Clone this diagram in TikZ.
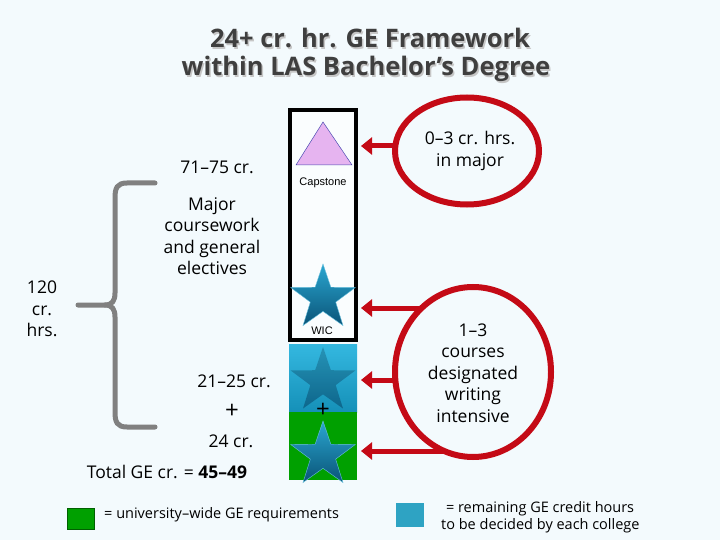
\documentclass[tikz,border=0pt]{standalone}
\usepackage{fontspec}
\setmainfont{Open Sans}
\newfontfamily\arialfont{Liberation Sans}
\usetikzlibrary{shapes.geometric,arrows.meta}
\definecolor{bg}{HTML}{F3FAFD}
\definecolor{redc}{HTML}{C40A16}
\definecolor{braceg}{HTML}{808080}
\definecolor{titleg}{HTML}{3F3F3F}
\definecolor{starTop}{HTML}{2AA6D0}
\definecolor{starBot}{HTML}{0A5478}
\definecolor{boxTop}{HTML}{34B8E0}
\definecolor{boxBot}{HTML}{1590B8}
\definecolor{greenc}{HTML}{00A000}
\definecolor{legblue}{HTML}{2EA3C3}
\definecolor{pinkc}{HTML}{E6B4F0}
\tikzset{
  body/.style={font=\fontsize{17.5}{21.5}\selectfont, align=center, inner sep=0pt},
  plussign/.style={font=\fontsize{24}{24}\selectfont, inner sep=0pt},
  small/.style={font=\arialfont\fontsize{11}{13}\selectfont, inner sep=0pt},
  legend/.style={font=\fontsize{14.5}{17}\selectfont, align=left, inner sep=0pt, anchor=west},
  ring/.style={ellipse, draw=redc, line width=6pt, fill=bg, inner sep=0pt},
  redarrow/.style={draw=redc, line width=5pt, -{Triangle[length=11pt,width=17pt]}},
  bracepath/.style={draw=braceg, line width=5pt, line cap=round},
  starshape/.style={star, star points=5, star point ratio=2.55, minimum size=68pt, inner sep=0pt, draw=starTop!70!white, line width=0.4pt, top color=starTop, bottom color=starBot},
  titletext/.style={font=\bfseries\fontsize{25.5}{30}\selectfont, inner sep=0pt},
}
\begin{document}
\begin{tikzpicture}[x=1pt,y=-1pt]
\useasboundingbox (0,0) rectangle (720,540);
\fill[bg] (0,0) rectangle (720,540);

% title with shadow
\node[titletext, text=gray!45] at (371.5,39.5) {24+ cr. hr. GE Framework};
\node[titletext, text=titleg] (t1) at (370,38) {24+ cr. hr. GE Framework};
\node[titletext, text=gray!45] at (367.5,70.5) {within LAS Bachelor’s Degree};
\node[titletext, text=titleg] (t2) at (366,69) {within LAS Bachelor’s Degree};

% column boxes
\node[rectangle, minimum width=68pt, minimum height=68pt, inner sep=0pt, top color=boxTop, bottom color=boxBot] (bluebox) at (323,378) {};
\node[rectangle, minimum width=68pt, minimum height=68pt, inner sep=0pt, fill=greenc] (greenbox) at (323,446) {};
\node[rectangle, draw=black, line width=4pt, fill=white!60!bg, minimum width=66pt, minimum height=230pt, inner sep=0pt] (upper) at (323,225) {};

% triangle
\coordinate (triA) at (323,122);
\coordinate (triB) at (352,165);
\coordinate (triC) at (296,165);
\filldraw[fill=pinkc, draw=blue!40!gray, line width=0.5pt] (triA) -- (triB) -- (triC) -- cycle;
\node[small] (cap) at (323,183) {Capstone};

% stars
\node[starshape] (s1) at (323,298) {};
\node[small] (wic) at (322,331) {WIC};
\node[starshape, top color=starTop!80!black, bottom color=starBot, draw=none, opacity=0.7] (s2) at (323,381) {};
\node[plussign] (plus2) at (323,410) {+};
\node[starshape] (s3) at (323,455) {};

% brace
\draw[bracepath] (155,183) -- (127,183) .. controls (117,183) and (115,188) .. (115,198) -- (115,293) .. controls (115,301) and (112,305) .. (105,305) -- (78,305);
\draw[bracepath] (105,305) .. controls (112,305) and (115,309) .. (115,317) -- (115,412) .. controls (115,422) and (117,427) .. (127,427) -- (155,427);

% left texts
\node[body] (t7175) at (217,167) {71–75 cr.};
\node[body] (major) at (212,236) {Major\\coursework\\and general\\electives};
\node[body] (t120) at (42,309) {120\\cr.\\hrs.};
\node[body] (t2125) at (234,381) {21–25 cr.};
\node[plussign] (plus1) at (232,411) {+};
\node[body] (t24) at (231,441) {24 cr.};
\node[body] (total) at (167,472) {Total GE cr. = \textbf{45–49}};

% arrows (drawn before rings so rings cover their starts)
\coordinate (a1) at (361,146);
\coordinate (a2) at (361,308);
\coordinate (a3) at (361,380);
\coordinate (a4) at (361,451);
\coordinate (e1c) at (467,146);
\coordinate (e2c) at (473,372);
\draw[redarrow] (e1c |- a1) -- (a1);
\draw[redarrow] (e2c |- a2) -- (a2);
\draw[redarrow] (e2c |- a3) -- (a3);
\draw[redarrow] (e2c |- a4) -- (a4);

% rings
\node[ring, minimum width=144pt, minimum height=107pt] (e1) at (467,151) {};
\node[body] (e1t) at (470,151) {0–3 cr. hrs.\\in major};
\node[ring, minimum width=156pt, minimum height=170pt] (e2) at (473,372) {};
\node[body] (e2t) at (473,373) {1–3\\courses\\designated\\writing\\intensive};

% legend
\node[rectangle, fill=greenc, draw=greenc!60!black, line width=0.3pt, minimum width=27pt, minimum height=21pt, inner sep=0pt] (lg) at (80.5,518.5) {};
\node[legend] (lgt) at (104,515) {= university–wide GE requirements};
\node[rectangle, fill=legblue, minimum width=28pt, minimum height=24pt, inner sep=0pt] (lb) at (410,515) {};
\node[legend, align=left] (lbt) at (441,517) {\,\,= remaining GE credit hours\\to be decided by each college};
\end{tikzpicture}
\end{document}
